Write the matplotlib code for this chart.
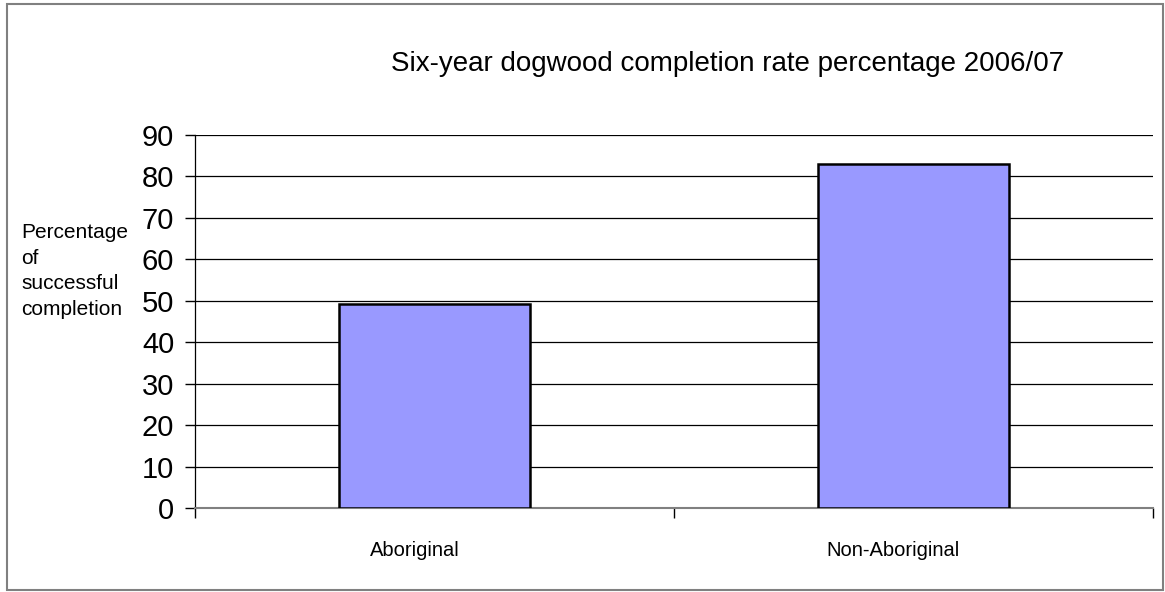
import matplotlib.pyplot as plt
import matplotlib.patches as mpatches
import matplotlib.transforms as mtransforms
import numpy as np

#chart data
categories = ["Aboriginal", "Non-Aboriginal"]
completionRate = [49.3, 83.0]
yTicks = [0, 10, 20, 30, 40, 50, 60, 70, 80, 90]

titleText = "Six-year dogwood completion rate percentage 2006/07"
yLabelText = "Percentage\nof\nsuccessful\ncompletion"

W, H = 1165, 592
regular = ["Liberation Sans", "DejaVu Sans"]

fig = plt.figure(figsize=(W / 100, H / 100), dpi=100)
ax = fig.add_axes([195 / W, (H - 508) / H, (1153 - 195) / W, (508 - 135) / H])

#bars
xPos = np.arange(len(categories))
ax.bar(xPos, completionRate, width=0.4, color="#9999FF", edgecolor="black",
       linewidth=1.8, zorder=3)

#axes and gridlines
ax.set_xlim(-0.5, len(categories) - 0.5)
ax.set_ylim(0, 90)
ax.set_yticks(yTicks)
ax.set_yticklabels([str(t) for t in yTicks], family=regular, fontsize=21)
ax.yaxis.grid(True, color="black", linewidth=0.9, zorder=0)
ax.set_axisbelow(True)

ax.set_xticks(np.arange(-0.5, len(categories)), minor=False)
ax.set_xticklabels([])
ax.set_xticks(xPos, minor=True)
ax.set_xticklabels(categories, minor=True, family=regular, fontsize=14.5)
ax.tick_params(axis="x", which="minor", length=0, pad=24)
ax.tick_params(axis="x", which="major", length=7, width=1, color="black")
ax.tick_params(axis="y", length=7, width=1, pad=8, color="black")

#category labels sit a little left of the bar centres
shift = mtransforms.ScaledTranslation(-0.2, 0, fig.dpi_scale_trans)
for lbl in ax.get_xticklabels(minor=True):
    lbl.set_transform(lbl.get_transform() + shift)

for side in ["top", "right"]:
    ax.spines[side].set_visible(False)
ax.spines["left"].set_color("black")
ax.spines["left"].set_linewidth(0.9)
ax.spines["bottom"].set_color("#808080")
ax.spines["bottom"].set_linewidth(1.5)

#title and y label
fig.text(728 / W, 1 - 64 / H, titleText, ha="center", va="center",
         family=regular, fontsize=20)
fig.text(21 / W, 1 - 271 / H, yLabelText, ha="left", va="center",
         family=regular, fontsize=15, linespacing=1.45)

#figure border
border = mpatches.Rectangle((7 / W, 1 - 590 / H), (1163 - 7) / W, (590 - 4) / H,
                            transform=fig.transFigure, fill=False,
                            edgecolor="#808080", linewidth=1.5)
fig.patches.append(border)

fig.savefig("out.png", dpi=100)
